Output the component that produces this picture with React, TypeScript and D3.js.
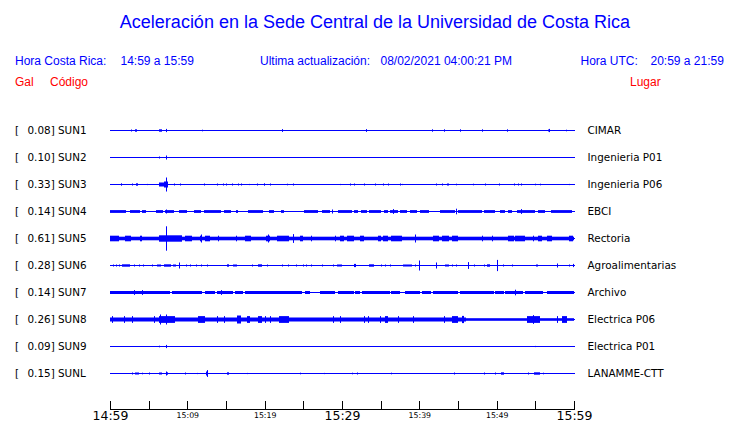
import React from "react";
import * as d3 from "d3";

const WIDTH = 740;
const HEIGHT = 423;

const titleText = "Aceleración en la Sede Central de la Universidad de Costa Rica";
const localLabel = "Hora Costa Rica:";
const localRange = "14:59 a 15:59";
const updateLabel = "Ultima actualización:";
const updateValue = "08/02/2021 04:00:21 PM";
const utcLabel = "Hora UTC:";
const utcRange = "20:59 a 21:59";

const codes = ["SUN1", "SUN2", "SUN3", "SUN4", "SUN5", "SUN6", "SUN7", "SUN8", "SUN9", "SUNL"];
const peaks = ["0.08", "0.10", "0.33", "0.14", "0.61", "0.28", "0.14", "0.26", "0.09", "0.15"];
const places = [
  "CIMAR", "Ingenieria P01", "Ingenieria P06", "EBCI", "Rectoria",
  "Agroalimentarias", "Archivo", "Electrica P06", "Electrica P01", "LANAMME-CTT",
];

// continuous background noise level (Gal) per station: [from min, to min, gal]
const baseNoise: [number, number, number][][] = [
  [], [], [], [],
  [[0, 60, 0.09]],
  [],
  [],
  [[0, 46.0, 0.1], [46.0, 60, 0.065]],
  [], [],
];

// events per station: [start minute, end minute, amplitude in Gal]; start==end -> single spike
const sun1: [number, number, number][] = [
  [2.7, 2.7, 0.05], [3.2, 3.5, 0.06], [6.3, 6.7, 0.06], [7.2, 7.2, 0.08], [11.9, 11.9, 0.04],
  [22.3, 22.3, 0.07], [33.1, 33.1, 0.07], [41.7, 41.7, 0.06], [43.2, 43.2, 0.06], [45.3, 45.3, 0.06],
  [48.1, 48.1, 0.06], [51.4, 51.4, 0.06], [56.6, 56.9, 0.05], [56.8, 56.8, 0.08], [59.0, 59.0, 0.04],
];
const sun2: [number, number, number][] = [
  [6.3, 6.5, 0.05], [7.2, 7.4, 0.06], [7.3, 7.3, 0.1],
];
const sun3: [number, number, number][] = [
  [1.4, 1.4, 0.06], [2.9, 2.9, 0.05], [3.4, 3.6, 0.06], [4.8, 4.8, 0.03], [6.3, 7.2, 0.1],
  [7.0, 7.5, 0.15], [7.3, 7.3, 0.35], [8.3, 8.3, 0.05], [9.1, 9.1, 0.05], [12.1, 12.1, 0.05],
  [13.8, 13.8, 0.05], [14.6, 14.6, 0.05], [15.0, 15.0, 0.05], [15.8, 15.8, 0.05], [16.6, 16.6, 0.05],
  [17.0, 17.0, 0.05], [18.0, 18.0, 0.03], [19.0, 19.0, 0.05], [19.9, 20.1, 0.06], [20.7, 20.7, 0.05],
  [22.9, 22.9, 0.04], [23.7, 23.7, 0.05], [29.8, 29.8, 0.03], [31.0, 31.0, 0.05], [31.5, 31.5, 0.05],
  [32.9, 32.9, 0.05], [34.3, 34.3, 0.05], [35.3, 35.3, 0.05], [35.9, 35.9, 0.05], [37.5, 37.5, 0.05],
  [37.8, 37.8, 0.03], [42.2, 42.2, 0.05], [42.9, 42.9, 0.05], [43.6, 43.8, 0.05], [44.7, 44.7, 0.04],
  [46.9, 46.9, 0.04], [48.5, 48.5, 0.05], [50.3, 50.3, 0.05], [52.2, 52.2, 0.05], [52.8, 52.8, 0.05],
  [53.1, 53.1, 0.05], [54.9, 54.9, 0.04], [55.6, 55.6, 0.04], [59.3, 59.3, 0.03],
];
const sun4: [number, number, number][] = [
  [0, 2.1, 0.07], [2.6, 3.9, 0.07], [4.2, 4.6, 0.07], [6.0, 6.8, 0.07], [7.1, 8.3, 0.07],
  [8.9, 9.9, 0.07], [10.9, 11.8, 0.07], [12.1, 14.4, 0.07], [14.8, 15.7, 0.07], [16.3, 16.5, 0.07],
  [17.9, 19.8, 0.07], [20.6, 21.2, 0.07], [22.1, 22.5, 0.07], [25.1, 26.9, 0.07], [27.4, 28.5, 0.07],
  [29.5, 31.3, 0.07], [31.5, 32.1, 0.07], [32.5, 33.2, 0.07], [33.5, 35.1, 0.07], [35.4, 36.0, 0.07],
  [36.2, 37.3, 0.07], [37.5, 38.4, 0.07], [38.8, 39.7, 0.07], [40.1, 41.2, 0.07], [42.7, 44.6, 0.07],
  [45.0, 48.1, 0.07], [48.3, 49.8, 0.07], [50.4, 51.1, 0.07], [51.5, 52.0, 0.07], [52.6, 55.0, 0.07],
  [55.4, 56.3, 0.07], [57.0, 59.7, 0.07],
  [7.2, 7.2, 0.1], [28.7, 28.7, 0.1], [36.6, 36.6, 0.12], [44.8, 44.8, 0.14], [53.1, 53.1, 0.12],
];
const sun5: [number, number, number][] = [
  [0, 1.1, 0.14], [1.9, 2.7, 0.14], [3.9, 4.1, 0.14], [6.3, 9.3, 0.16], [9.7, 10.6, 0.14],
  [11.6, 11.9, 0.14], [12.3, 12.9, 0.14], [14.0, 14.0, 0.14], [16.3, 16.3, 0.14], [17.5, 18.2, 0.14],
  [20.2, 20.7, 0.14], [21.6, 23.1, 0.14], [24.6, 25.0, 0.14], [26.0, 26.0, 0.14], [29.1, 29.1, 0.14],
  [29.7, 30.2, 0.14], [30.6, 31.5, 0.14], [32.3, 32.8, 0.14], [34.7, 35.1, 0.14], [35.3, 36.0, 0.14],
  [36.4, 37.7, 0.14], [41.8, 42.5, 0.14], [42.9, 43.8, 0.14], [44.2, 45.0, 0.14], [48.1, 48.1, 0.14],
  [49.4, 49.4, 0.14], [51.5, 52.2, 0.14], [52.4, 53.7, 0.14], [54.7, 54.7, 0.14], [55.4, 55.8, 0.14],
  [56.5, 57.1, 0.14], [59.3, 59.9, 0.14],
  [7.3, 7.3, 0.61], [11.8, 11.8, 0.2], [20.4, 20.4, 0.2], [23.7, 23.7, 0.22], [39.5, 39.5, 0.2],
];
const sun6: [number, number, number][] = [
  [0.4, 0.4, 0.05], [0.8, 0.8, 0.05], [1.1, 1.1, 0.05], [1.5, 2.6, 0.06], [3.1, 3.1, 0.05],
  [3.7, 3.7, 0.05], [4.3, 4.3, 0.05], [5.4, 5.4, 0.05], [6.1, 6.6, 0.05], [7.0, 7.9, 0.06],
  [8.1, 8.5, 0.05], [8.9, 8.9, 0.15], [9.8, 9.8, 0.05], [10.4, 10.4, 0.05], [11.1, 11.1, 0.05],
  [11.8, 11.8, 0.05], [12.6, 12.6, 0.05], [15.1, 15.4, 0.06], [15.9, 16.4, 0.05], [18.3, 18.3, 0.05],
  [19.1, 19.6, 0.06], [20.3, 20.3, 0.05], [22.2, 22.2, 0.05], [23.0, 23.0, 0.05], [24.1, 24.1, 0.05],
  [25.0, 25.0, 0.05], [25.4, 25.4, 0.05], [26.0, 26.0, 0.05], [27.4, 27.4, 0.05], [28.8, 28.8, 0.05],
  [29.4, 30.0, 0.05], [31.5, 31.8, 0.08], [33.5, 34.1, 0.06], [35.0, 35.0, 0.05], [35.6, 35.6, 0.05],
  [36.2, 36.2, 0.05], [37.9, 39.0, 0.05], [39.4, 39.4, 0.05], [39.9, 39.9, 0.25], [42.2, 42.2, 0.15],
  [43.3, 43.8, 0.05], [44.2, 44.2, 0.05], [44.8, 44.8, 0.05], [46.3, 46.3, 0.17], [47.1, 47.1, 0.05],
  [48.3, 48.3, 0.05], [48.7, 49.1, 0.06], [50.0, 50.0, 0.28], [50.8, 50.8, 0.05], [52.0, 52.0, 0.05],
  [55.1, 55.4, 0.05], [57.8, 57.8, 0.1], [59.4, 59.4, 0.05], [59.9, 59.9, 0.08],
];
const sun7: [number, number, number][] = [
  [0, 7.8, 0.075], [8.0, 11.9, 0.075], [12.3, 13.6, 0.075], [13.8, 15.9, 0.075], [16.2, 17.2, 0.075],
  [17.5, 24.8, 0.075], [25.2, 25.9, 0.075], [27.2, 29.1, 0.075], [29.5, 31.5, 0.075], [31.7, 32.3, 0.075],
  [32.6, 36.2, 0.075], [36.4, 37.5, 0.075], [38.1, 40.1, 0.075], [40.3, 41.5, 0.075], [41.8, 45.0, 0.075],
  [45.3, 49.6, 0.075], [49.8, 50.9, 0.075], [51.1, 53.4, 0.075], [53.7, 56.0, 0.075], [56.5, 60, 0.075],
  [3.1, 3.1, 0.12], [4.1, 4.1, 0.12], [14.4, 14.4, 0.12], [52.4, 52.4, 0.14],
];
const sun8: [number, number, number][] = [
  [0.2, 0.2, 0.17], [1.8, 1.8, 0.17], [2.9, 2.9, 0.17], [5.7, 5.7, 0.17], [6.3, 6.8, 0.17],
  [6.5, 6.5, 0.25], [6.9, 8.4, 0.17], [7.3, 7.3, 0.25], [11.4, 12.3, 0.17], [13.8, 13.8, 0.17],
  [14.7, 14.7, 0.17], [16.4, 17.0, 0.2], [17.7, 18.1, 0.17], [19.2, 19.6, 0.17], [20.0, 20.0, 0.17],
  [20.7, 20.7, 0.17], [21.8, 23.1, 0.17], [28.9, 28.9, 0.17], [29.7, 29.7, 0.17], [32.8, 32.8, 0.17],
  [33.4, 33.4, 0.17], [34.9, 34.9, 0.17], [35.6, 36.0, 0.17], [37.2, 37.2, 0.17], [39.2, 39.2, 0.17],
  [43.2, 43.2, 0.17], [44.2, 45.0, 0.17], [45.5, 45.8, 0.18], [53.9, 55.6, 0.17], [54.7, 54.7, 0.22],
  [57.8, 57.8, 0.17], [58.4, 59.1, 0.17],
];
const sun9: [number, number, number][] = [
  [6.3, 6.5, 0.04], [7.3, 7.3, 0.08], [54.9, 54.9, 0.03],
];
const sunL: [number, number, number][] = [
  [2.8, 2.8, 0.05], [3.2, 3.7, 0.05], [4.2, 4.2, 0.04], [5.0, 5.2, 0.05], [6.3, 6.7, 0.05],
  [7.3, 7.5, 0.06], [7.3, 7.3, 0.1], [9.7, 9.7, 0.05], [11.2, 11.2, 0.03], [12.4, 12.7, 0.1],
  [12.5, 12.5, 0.17], [15.1, 15.4, 0.06], [17.7, 17.7, 0.03], [24.6, 24.6, 0.04], [27.7, 27.7, 0.03],
  [31.3, 31.3, 0.04], [32.0, 32.0, 0.05], [36.3, 36.3, 0.04], [44.5, 44.5, 0.05], [48.3, 48.3, 0.05],
  [49.8, 49.8, 0.05], [50.6, 50.9, 0.06], [54.0, 54.0, 0.05], [54.8, 55.6, 0.06], [56.0, 56.0, 0.04],
];
const stationEvents = [sun1, sun2, sun3, sun4, sun5, sun6, sun7, sun8, sun9, sunL];

// time axis: minutes after 14:59 for each tick, label (empty = unlabeled), major flag
const tickMinutes = [0, 5, 10, 15, 20, 25, 30, 35, 40, 45, 50, 55, 60];
const tickLabels = ["14:59", "", "15:09", "", "15:19", "", "15:29", "", "15:39", "", "15:49", "", "15:59"];
const tickMajor = [true, false, false, false, false, false, true, false, false, false, false, false, true];

const BLUE = "#0000ff";
const RED = "#ff0000";
const HEAD_FONT = "'Liberation Sans', Arial, sans-serif";
const LABEL_FONT = "'DejaVu Sans', sans-serif";

const START = new Date(2021, 1, 8, 14, 59, 0);
const END = new Date(2021, 1, 8, 15, 59, 0);
const at = (m: number) => new Date(START.getTime() + m * 60000);

export default function App() {
  const x = d3.scaleTime().domain([START, END]).range([110, 574]);
  const row = d3.scaleBand<string>().domain(codes).range([116.5, 386.5]);
  const amp = d3.scaleLinear().domain([0, 1]).range([0, 20]);

  const rowY = (c: string) => Math.round((row(c) as number) + row.bandwidth() / 2);

  const renderBlock = (ev: [number, number, number], key: string, yc: number) => {
    const x0 = Math.round(x(at(ev[0])));
    const x1 = Math.round(x(at(ev[1])));
    const w = Math.max(1, x1 - x0);
    const a = amp(ev[2]);
    const h = Math.max(1, 2 * a);
    return <rect key={key} x={x0} y={yc + 0.5 - h / 2} width={w} height={h} fill={BLUE} />;
  };

  return (
    <svg width={WIDTH} height={HEIGHT} style={{ display: "block", position: "absolute", left: 0, top: 0 }}>
      <rect width={WIDTH} height={HEIGHT} fill="#ffffff" />
      <text x={375} y={28} textAnchor="middle" fill={BLUE} fontFamily={HEAD_FONT} fontSize={18}>
        {titleText}
      </text>
      <g fontFamily={HEAD_FONT} fontSize={12} fill={BLUE}>
        <text x={15} y={65}>{localLabel}</text>
        <text x={120.5} y={65}>{localRange}</text>
        <text x={260} y={65}>{updateLabel}</text>
        <text x={380.5} y={65}>{updateValue}</text>
        <text x={580.5} y={65}>{utcLabel}</text>
        <text x={650.5} y={65}>{utcRange}</text>
      </g>
      <g fontFamily={HEAD_FONT} fontSize={12} fill={RED}>
        <text x={15} y={86}>Gal</text>
        <text x={50} y={86}>Código</text>
        <text x={630} y={86}>Lugar</text>
      </g>

      {codes.map((c, i) => {
        const yc = rowY(c);
        return (
          <g key={c}>
            <g fontFamily={LABEL_FONT} fontSize={10.4} fill="#000">
              <text x={15} y={yc + 4}>[</text>
              <text x={27.5} y={yc + 4}>{peaks[i]}] {c}</text>
              <text x={587.5} y={yc + 4}>{places[i]}</text>
            </g>
            <rect x={x(START)} y={yc} width={x(END) - x(START) + 1} height={1} fill={BLUE} />
            {baseNoise[i].map((b, j) => renderBlock(b, `b${j}`, yc))}
            {stationEvents[i].map((ev, j) => renderBlock(ev, `e${j}`, yc))}
          </g>
        );
      })}

      <g shapeRendering="crispEdges">
        <line x1={x(START)} x2={x(END) + 1} y1={409.5} y2={409.5} stroke="#000" strokeWidth={1} />
        {tickMinutes.map((m) => {
          const tx = Math.round(x(at(m))) + 0.5;
          return <line key={m} x1={tx} x2={tx} y1={401} y2={409} stroke="#000" strokeWidth={1} />;
        })}
      </g>
      <g fontFamily={LABEL_FONT} fill="#000" textAnchor="middle">
        {tickMinutes.map((m, i) =>
          tickLabels[i] ? (
            <text key={m} x={x(at(m)) + 0.5} y={tickMajor[i] ? 420 : 418} fontSize={tickMajor[i] ? 12.5 : 7.8}>
              {tickLabels[i]}
            </text>
          ) : null
        )}
      </g>
    </svg>
  );
}
